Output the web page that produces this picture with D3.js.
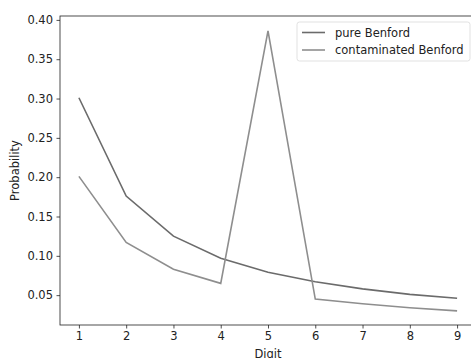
<!DOCTYPE html>
<html>
<head>
<meta charset="utf-8">
<script src="https://cdn.jsdelivr.net/npm/d3@7"></script>
<style>
  body { margin: 0; background: #fff; }
  svg { display: block; font-family: "DejaVu Sans", sans-serif; }
</style>
</head>
<body>
<div id="chart"></div>
<script>
const digits = [1, 2, 3, 4, 5, 6, 7, 8, 9];
const pureBenford = [0.301, 0.176, 0.125, 0.097, 0.079, 0.067, 0.058, 0.051, 0.046];
const contaminatedBenford = [0.201, 0.117, 0.083, 0.065, 0.386, 0.045, 0.039, 0.034, 0.030];
const yTicks = [0.05, 0.10, 0.15, 0.20, 0.25, 0.30, 0.35, 0.40];
const seriesNames = ["pure Benford", "contaminated Benford"];
const seriesColors = ["#6b6b6b", "#8e8e8e"];

const W = 471, H = 358;
const fs = "11.5px";
const margin = { top: 16, right: -5, bottom: 33, left: 60 };
const width = W - margin.left - margin.right;
const height = H - margin.top - margin.bottom;

const svg = d3.select("#chart").append("svg")
  .attr("width", W).attr("height", H);
const g = svg.append("g")
  .attr("transform", "translate(" + margin.left + "," + margin.top + ")");

const x = d3.scaleLinear().domain([0.6, 9.4]).range([0, width]);
const y = d3.scaleLinear().domain([0.01205, 0.40495]).range([height, 0]);

const xAxis = g.append("g")
  .attr("transform", "translate(0," + height + ")")
  .call(d3.axisBottom(x).tickValues(digits).tickFormat(d3.format("d")).tickSize(3.5).tickPadding(3.5));
const yAxis = g.append("g")
  .call(d3.axisLeft(y).tickValues(yTicks).tickFormat(d3.format(".2f")).tickSize(3.5).tickPadding(3.5));

[xAxis, yAxis].forEach(a => {
  a.selectAll("text").attr("font-size", fs).attr("fill", "#222").attr("font-family", "DejaVu Sans");
  a.selectAll("line").attr("stroke", "#222").attr("stroke-width", 0.8);
  a.select(".domain").remove();
});

// spines
g.append("rect")
  .attr("x", 0).attr("y", 0).attr("width", width).attr("height", height)
  .attr("fill", "none").attr("stroke", "#222").attr("stroke-width", 0.8);

const line = d3.line()
  .x((d, i) => x(digits[i]))
  .y(d => y(d));

[pureBenford, contaminatedBenford].forEach((s, i) => {
  g.append("path")
    .datum(s)
    .attr("d", line)
    .attr("fill", "none")
    .attr("stroke", seriesColors[i])
    .attr("stroke-width", 1.6)
    .attr("stroke-linejoin", "miter");
});

// labels
svg.append("text")
  .attr("x", margin.left + width / 2).attr("y", H)
  .attr("text-anchor", "middle").attr("font-size", fs).attr("fill", "#222")
  .text("Digit");
svg.append("text")
  .attr("transform", "translate(19," + (margin.top + height / 2) + ") rotate(-90)")
  .attr("text-anchor", "middle").attr("font-size", fs).attr("fill", "#222")
  .text("Probability");

// legend
const legend = svg.append("g").attr("transform", "translate(297,22)");
legend.append("rect")
  .attr("width", 173).attr("height", 39).attr("rx", 2.5)
  .attr("fill", "#fff").attr("fill-opacity", 0.8)
  .attr("stroke", "#d9d9d9").attr("stroke-width", 0.8);
seriesNames.forEach((name, i) => {
  const row = legend.append("g").attr("transform", "translate(0," + (10.5 + i * 17.5) + ")");
  row.append("line")
    .attr("x1", 5).attr("x2", 28).attr("y1", 0).attr("y2", 0)
    .attr("stroke", seriesColors[i]).attr("stroke-width", 1.6);
  row.append("text")
    .attr("x", 38).attr("y", 0).attr("dy", "0.35em")
    .attr("font-size", fs).attr("fill", "#222")
    .text(name);
});
</script>
</body>
</html>
